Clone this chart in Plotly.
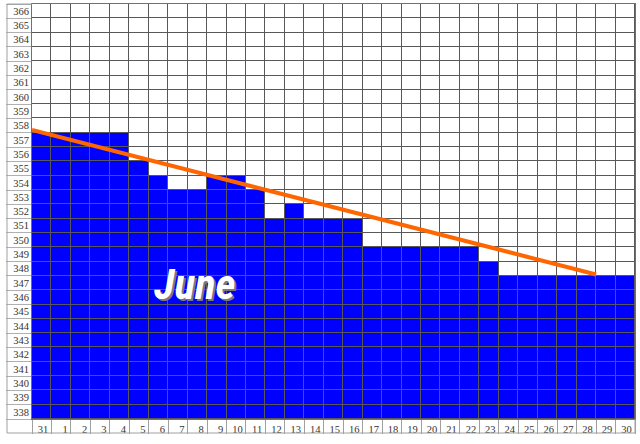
import plotly.graph_objects as go

# ---- data ----
days = ["31"] + [str(d) for d in range(1, 31)]
levels = [357, 357, 357, 357, 357, 355, 354, 353, 353, 354, 354, 353, 351, 352,
          351, 351, 351, 349, 349, 349, 349, 349, 349, 348, 347, 347, 347, 347,
          347, 347, 347]
row_values = list(range(338, 367))
trend_days = ["31", "28"]
trend_values = [357.7, 347.6]
month_label = "June"

# ---- build ----
col_idx = list(range(len(days)))
z = [[1 if r <= lv else 0 for lv in levels] for r in row_values]

trend_x = [days.index(trend_days[0]) - 0.5, days.index(trend_days[1]) + 0.5]

fig = go.Figure()
fig.add_trace(go.Heatmap(
    x=col_idx, y=row_values, z=z,
    colorscale=[[0, "#FFFFFF"], [1, "#0000FF"]],
    zmin=0, zmax=1, showscale=False, xgap=1, ygap=1,
    hoverinfo="skip",
))
fig.add_trace(go.Scatter(
    x=trend_x, y=trend_values, mode="lines",
    line=dict(color="#FF6600", width=4), hoverinfo="skip", showlegend=False,
))

fig.add_annotation(
    x=7.9, y=346.9, xref="x", yref="y", text="<b><i>" + month_label + "</i></b>",
    showarrow=False,
    font=dict(family="Liberation Sans Narrow, Roboto Condensed, Arial Narrow, Liberation Sans",
              size=43, color="white", shadow="2px 2px 0px #7a7a7a"),
)

label_font = dict(family="Liberation Serif, Times New Roman, serif", size=10.5, color="#333333")

fig.update_xaxes(
    range=[-0.5, len(days) - 0.5],
    tickmode="array", tickvals=col_idx, ticktext=days,
    ticks="", ticklabelposition="outside left", ticklabelshift=7,
    tickfont=label_font, showgrid=False, zeroline=False,
    showline=True, linecolor="#707070", linewidth=1, mirror=True,
    minor=dict(tickmode="array", tickvals=[i + 0.5 for i in range(-1, len(days))],
               ticks="outside", ticklen=14, tickcolor="#a0a0a0", tickwidth=1),
    fixedrange=True,
)
fig.update_yaxes(
    range=[row_values[0] - 0.5, row_values[-1] + 0.5],
    tickmode="array", tickvals=row_values, ticktext=[str(v) for v in row_values],
    ticks="", tickfont=label_font, showgrid=False, zeroline=False,
    showline=True, linecolor="#707070", linewidth=1, mirror=True,
    minor=dict(tickmode="array", tickvals=[v - 0.5 for v in row_values] + [row_values[-1] + 0.5],
               ticks="outside", ticklen=25, tickcolor="#b0b0b0", tickwidth=1),
    fixedrange=True,
)

W, H = 640, 444
ml, mr, mt, mb = 32, 5, 4, 25
pw, ph = W - ml - mr, H - mt - mb
left_px, bottom_px = 7, 433
xl = (left_px - ml) / pw
yb = -(bottom_px - (H - mb)) / ph
border = dict(color="#a0a0a0", width=1)
fig.add_shape(type="line", xref="paper", yref="paper", x0=xl, x1=xl, y0=yb, y1=1, line=border)
fig.add_shape(type="line", xref="paper", yref="paper", x0=xl, x1=1, y0=yb, y1=yb, line=border)
fig.add_shape(type="line", xref="paper", yref="paper", x0=xl, x1=0, y0=1, y1=1, line=border)
fig.add_shape(type="line", xref="paper", yref="paper", x0=1, x1=1, y0=yb, y1=0, line=border)

fig.update_layout(
    width=W, height=H,
    margin=dict(l=ml, r=mr, t=mt, b=mb, pad=0),
    paper_bgcolor="white", plot_bgcolor="#585858",
    showlegend=False,
)

fig.write_html("out.html", config={"displayModeBar": False},
               post_script="document.body.style.margin='0';")
